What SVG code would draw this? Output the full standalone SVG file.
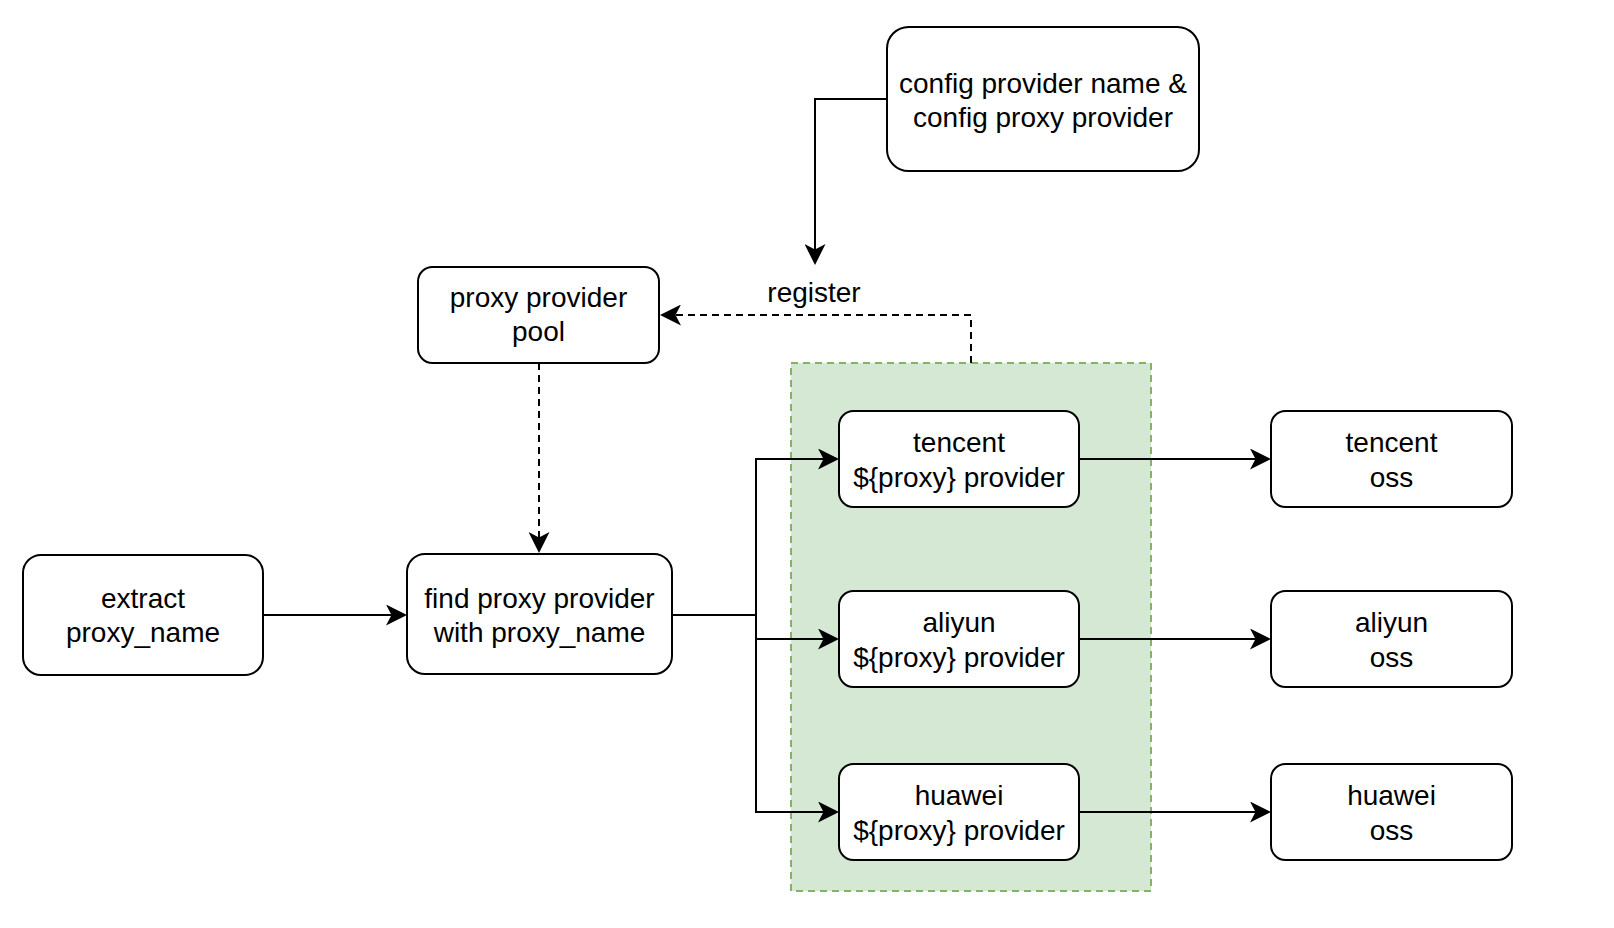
<svg xmlns="http://www.w3.org/2000/svg" width="1614" height="928" viewBox="0 0 1614 928">
  <style>
    .box { fill: #ffffff; stroke: #000000; stroke-width: 2; }
    .lbl { font-family: "Liberation Sans", Arial, Helvetica, sans-serif; font-size: 28px; fill: #000000; text-anchor: middle; }
    .edge { fill: none; stroke: #000000; stroke-width: 2; }
    .dash { stroke-dasharray: 7 5; }
    .grp { fill: #d5e8d4; stroke: #82b366; stroke-width: 2; stroke-dasharray: 7 5; }
  </style>
  <defs>
    <marker id="arr" viewBox="0 0 21 21" refX="6" refY="10.5" markerWidth="21" markerHeight="21" orient="auto" markerUnits="userSpaceOnUse">
      <path d="M0,0 L21,10.5 L0,21 L5.5,10.5 Z" fill="#000000"/>
    </marker>
  </defs>
  <rect width="1614" height="928" fill="#ffffff"/>

  <g id="provider-group">
    <rect class="grp" x="791" y="363" width="360" height="528"/>
  </g>

  <g id="connectors">
    <path class="edge" d="M887,99 H815 V250" marker-end="url(#arr)"/>
    <path class="edge dash" d="M971,363 V315 H675" marker-end="url(#arr)"/>
    <path class="edge dash" d="M539,363 V538" marker-end="url(#arr)"/>
    <path class="edge" d="M263,615 H392" marker-end="url(#arr)"/>
    <path class="edge" d="M672,615 H756 V459 H824" marker-end="url(#arr)"/>
    <path class="edge" d="M672,615 H756 V639 H824" marker-end="url(#arr)"/>
    <path class="edge" d="M672,615 H756 V812 H824" marker-end="url(#arr)"/>
    <path class="edge" d="M1079,459 H1256" marker-end="url(#arr)"/>
    <path class="edge" d="M1079,639 H1256" marker-end="url(#arr)"/>
    <path class="edge" d="M1079,812 H1256" marker-end="url(#arr)"/>
    <text class="lbl" x="814" y="302">register</text>
  </g>

  <g id="config">
    <rect class="box" x="887" y="27" width="312" height="144" rx="21.6" ry="21.6"/>
    <text class="lbl" x="1043" y="93">config provider name &amp;</text>
    <text class="lbl" x="1043" y="127">config proxy provider</text>
  </g>

  <g id="pool">
    <rect class="box" x="418" y="267" width="241" height="96" rx="14.4" ry="14.4"/>
    <text class="lbl" x="538.5" y="307">proxy provider</text>
    <text class="lbl" x="538.5" y="341">pool</text>
  </g>

  <g id="extract">
    <rect class="box" x="23" y="555" width="240" height="120" rx="18" ry="18"/>
    <text class="lbl" x="143" y="608">extract</text>
    <text class="lbl" x="143" y="642">proxy_name</text>
  </g>

  <g id="find">
    <rect class="box" x="407" y="554" width="265" height="120" rx="18" ry="18"/>
    <text class="lbl" x="539.5" y="608">find proxy provider</text>
    <text class="lbl" x="539.5" y="642">with proxy_name</text>
  </g>

  <g id="tencent-provider">
    <rect class="box" x="839" y="411" width="240" height="96" rx="14.4" ry="14.4"/>
    <text class="lbl" x="959" y="452">tencent</text>
    <text class="lbl" x="959" y="487">${proxy} provider</text>
  </g>

  <g id="aliyun-provider">
    <rect class="box" x="839" y="591" width="240" height="96" rx="14.4" ry="14.4"/>
    <text class="lbl" x="959" y="632">aliyun</text>
    <text class="lbl" x="959" y="667">${proxy} provider</text>
  </g>

  <g id="huawei-provider">
    <rect class="box" x="839" y="764" width="240" height="96" rx="14.4" ry="14.4"/>
    <text class="lbl" x="959" y="805">huawei</text>
    <text class="lbl" x="959" y="840">${proxy} provider</text>
  </g>

  <g id="tencent-oss">
    <rect class="box" x="1271" y="411" width="241" height="96" rx="14.4" ry="14.4"/>
    <text class="lbl" x="1391.5" y="452">tencent</text>
    <text class="lbl" x="1391.5" y="487">oss</text>
  </g>

  <g id="aliyun-oss">
    <rect class="box" x="1271" y="591" width="241" height="96" rx="14.4" ry="14.4"/>
    <text class="lbl" x="1391.5" y="632">aliyun</text>
    <text class="lbl" x="1391.5" y="667">oss</text>
  </g>

  <g id="huawei-oss">
    <rect class="box" x="1271" y="764" width="241" height="96" rx="14.4" ry="14.4"/>
    <text class="lbl" x="1391.5" y="805">huawei</text>
    <text class="lbl" x="1391.5" y="840">oss</text>
  </g>
</svg>
